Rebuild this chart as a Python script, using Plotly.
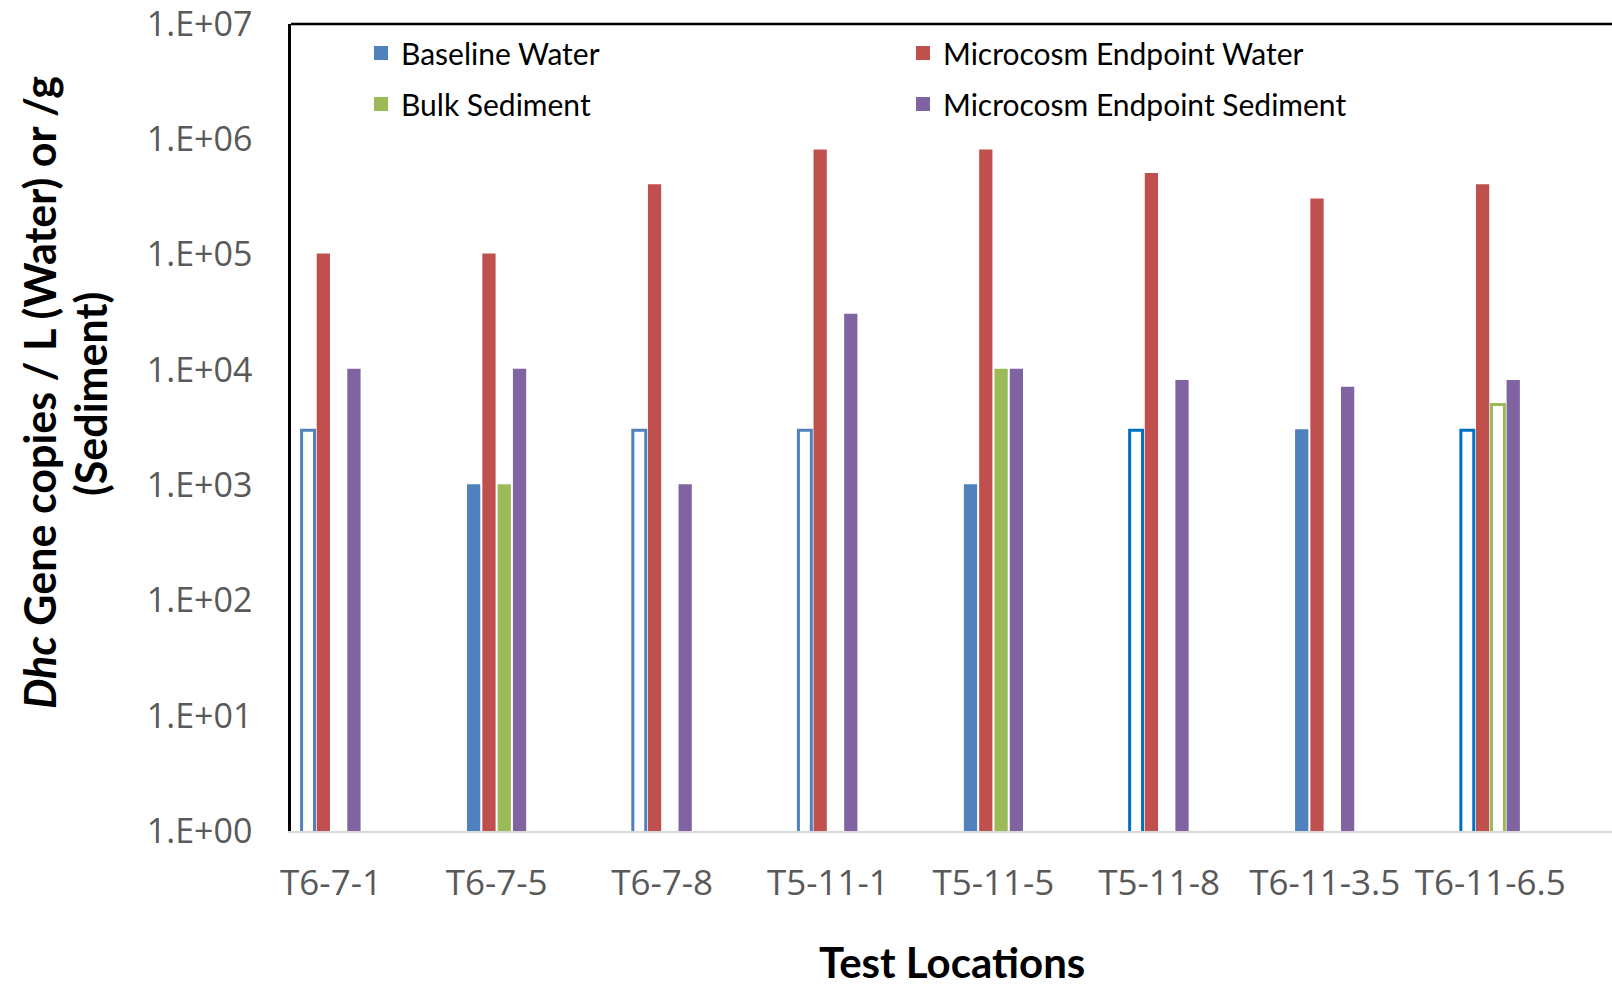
import plotly.graph_objects as go

categories = ["T6-7-1", "T6-7-5", "T6-7-8", "T5-11-1", "T5-11-5", "T5-11-8", "T6-11-3.5", "T6-11-6.5"]

baseline_water = [3000, 1000, 3000, 3000, 1000, 3000, 3000, 3000]
baseline_detected = [False, True, False, False, True, False, True, False]

endpoint_water = [1e5, 1e5, 4e5, 8e5, 8e5, 5e5, 3e5, 4e5]

bulk_sediment = [None, 1000, None, None, 10000, None, None, 5000]
bulk_detected = [None, True, None, None, True, None, None, False]

endpoint_sediment = [1e4, 1e4, 1000, 3e4, 1e4, 8000, 7000, 8000]

ytick_vals = [1, 10, 100, 1e3, 1e4, 1e5, 1e6, 1e7]
ytick_text = ["1.E+00", "1.E+01", "1.E+02", "1.E+03", "1.E+04", "1.E+05", "1.E+06", "1.E+07"]

BLUE = "#4f81bd"
RED = "#c0504d"
GREEN = "#9bbb59"
PURPLE = "#8064a2"

pitch = 0.0924
bw = 0.068      # inner width; a 2px same-colour outline brings it to ~13px
olw = 2


def off(i, w=bw):
    return (i - 1.5) * pitch - w / 2


def pick(vals, flags, want):
    return [v if (f is not None and f == want) else None for v, f in zip(vals, flags)]


fig = go.Figure()

fig.add_trace(go.Bar(
    name="Baseline Water", x=categories,
    y=pick(baseline_water, baseline_detected, True),
    marker=dict(color=BLUE, line=dict(width=olw, color=BLUE)),
    width=bw, offset=off(0), legend="legend"))
hollow_bw = 0.078
fig.add_trace(go.Bar(
    name="Baseline Water", x=categories,
    y=pick(baseline_water, baseline_detected, False),
    marker=dict(color="white",
                line=dict(width=3, color=[BLUE, BLUE, BLUE, BLUE, BLUE, "#0070c0", BLUE, "#0070c0"])),
    width=hollow_bw, offset=off(0, hollow_bw), showlegend=False))

fig.add_trace(go.Bar(
    name="Microcosm Endpoint Water", x=categories, y=endpoint_water,
    marker=dict(color=RED, line=dict(width=olw, color=RED)),
    width=bw, offset=off(1), legend="legend"))

fig.add_trace(go.Bar(
    name="Bulk Sediment", x=categories,
    y=pick(bulk_sediment, bulk_detected, True),
    marker=dict(color=GREEN, line=dict(width=olw, color=GREEN)),
    width=bw, offset=off(2), legend="legend2"))
fig.add_trace(go.Bar(
    name="Bulk Sediment", x=categories,
    y=pick(bulk_sediment, bulk_detected, False),
    marker=dict(color="white", line=dict(width=3, color=GREEN)),
    width=hollow_bw, offset=off(2, hollow_bw), showlegend=False))

fig.add_trace(go.Bar(
    name="Microcosm Endpoint Sediment", x=categories, y=endpoint_sediment,
    marker=dict(color=PURPLE, line=dict(width=olw, color=PURPLE)),
    width=bw, offset=off(3), legend="legend2"))

W, H = 1612, 989
L, R, T, B = 291, 0, 24, 158
pw = W - L - R
ph = H - T - B


def py(v):
    return (H - B - v) / ph


def px(v):
    return (v - L) / pw


legend_common = dict(
    orientation="h",
    x=px(361), xanchor="left", yanchor="middle",
    entrywidth=497, entrywidthmode="pixels",
    font=dict(family="Lato", size=30, color="#000000"),
    bgcolor="rgba(0,0,0,0)",
    traceorder="normal",
    itemclick=False, itemdoubleclick=False,
)

fig.update_layout(
    width=W, height=H,
    margin=dict(l=L, r=R, t=T, b=B, pad=0, autoexpand=False),
    barmode="overlay",
    paper_bgcolor="white", plot_bgcolor="white",
    showlegend=True,
    legend=dict(legend_common, y=py(53)),
    legend2=dict(legend_common, y=py(104)),
    xaxis=dict(
        type="category",
        range=[-0.2415, 7.735],
        automargin=False,
        showgrid=False, zeroline=False,
        showline=True, linecolor="#d9d9d9", linewidth=2,
        ticks="outside", ticklen=20, tickcolor="rgba(0,0,0,0)",
        tickfont=dict(family="Open Sans", size=35, color="#595959"),
    ),
    yaxis=dict(
        type="log",
        range=[0, 7],
        automargin=False,
        showgrid=False, zeroline=False,
        showline=True, linecolor="#000000", linewidth=2.5,
        tickvals=ytick_vals, ticktext=ytick_text,
        ticks="outside", ticklen=29, tickcolor="rgba(0,0,0,0)",
        ticklabeloverflow="allow",
        tickfont=dict(family="Open Sans", size=34, color="#595959"),
    ),
    shapes=[dict(type="line", xref="paper", yref="paper", x0=0, x1=1, y0=1, y1=1,
                 line=dict(color="#000000", width=2.5))],
    annotations=[
        dict(text="<b><i>Dhc</i> Gene copies / L (Water) or /g</b>",
             xref="paper", yref="paper", x=px(39), y=py(393),
             xanchor="center", yanchor="middle", textangle=-90, showarrow=False,
             font=dict(family="Lato", size=43, color="#000000")),
        dict(text="<b>(Sediment)</b>",
             xref="paper", yref="paper", x=px(91), y=py(394),
             xanchor="center", yanchor="middle", textangle=-90, showarrow=False,
             font=dict(family="Lato", size=43, color="#000000")),
        dict(text="<b>Test Locations</b>",
             xref="paper", yref="paper", x=px(951.5), y=py(962),
             xanchor="center", yanchor="middle", showarrow=False,
             font=dict(family="Lato", size=42, color="#000000")),
    ],
)

fig.write_html("out.html")
